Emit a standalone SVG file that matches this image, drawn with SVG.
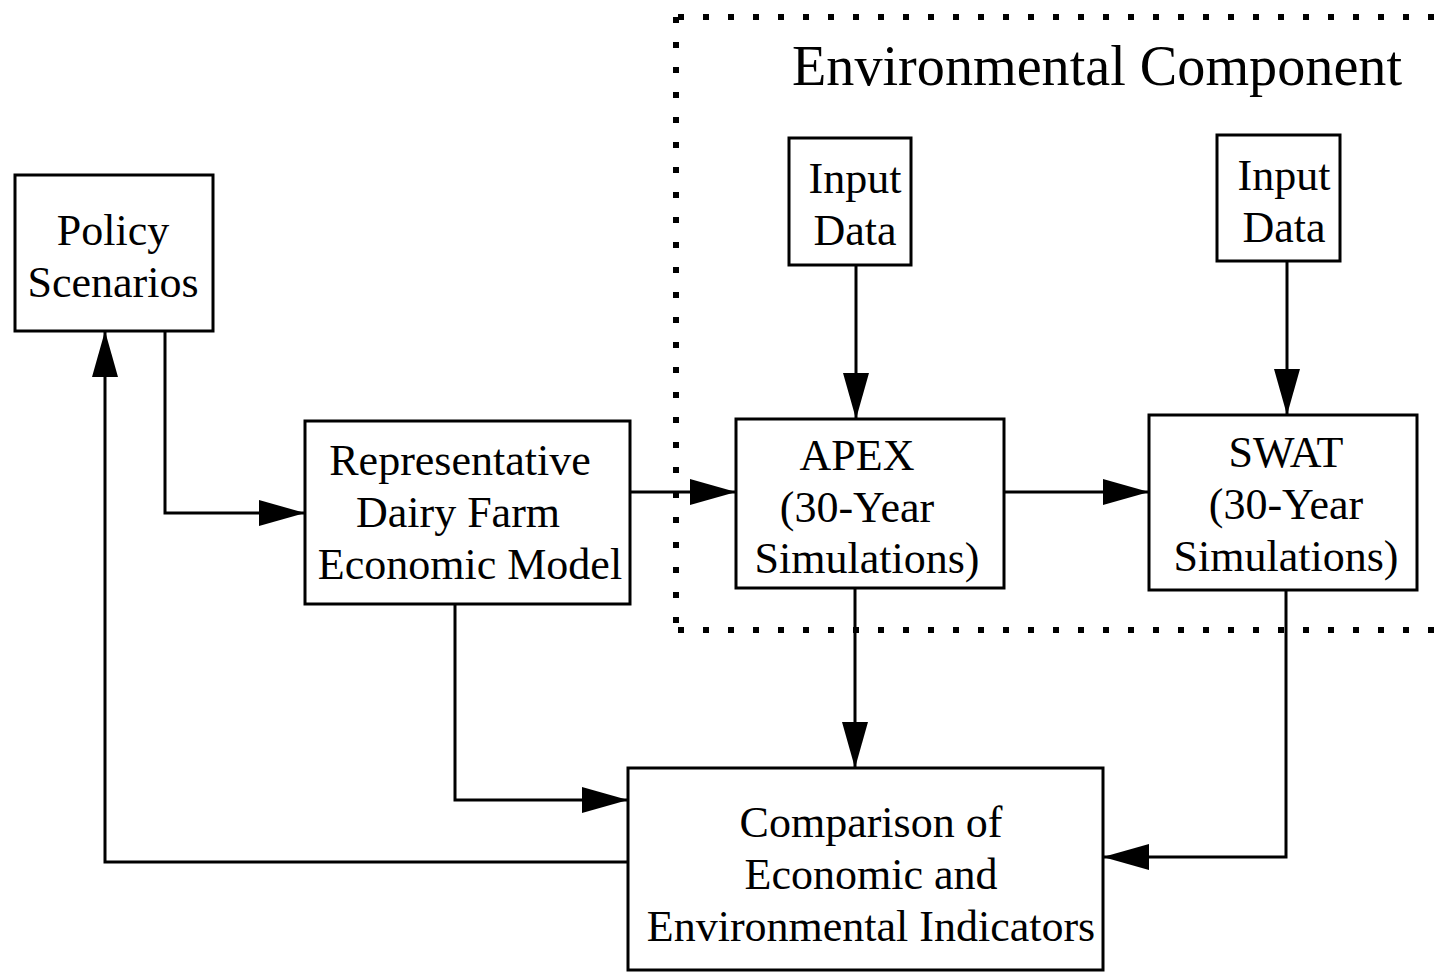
<svg xmlns="http://www.w3.org/2000/svg" width="1450" height="973" viewBox="0 0 1450 973">
<style>
.box{fill:#fff;stroke:#000;stroke-width:3}
.t{font-family:"Liberation Serif","Times New Roman",serif;font-size:44px;fill:#000;text-anchor:middle}
.c{fill:none;stroke:#000;stroke-width:3;marker-end:url(#ah)}
.dot{fill:none;stroke:#000;stroke-width:6;stroke-dasharray:6 19}
</style>
<defs>
<marker id="ah" markerUnits="userSpaceOnUse" markerWidth="46" markerHeight="26" refX="46" refY="13" orient="auto">
<path d="M0,0 L46,13 L0,26 z" fill="#000"/>
</marker>
</defs>
<rect width="1450" height="973" fill="#fff"/>
<g id="env-boundary">
<line class="dot" x1="678" y1="17" x2="1450" y2="17"/>
<line class="dot" x1="676" y1="17" x2="676" y2="632"/>
<line class="dot" x1="678" y1="630" x2="1450" y2="630"/>
<text x="1097" y="85" class="t" style="font-size:56px" textLength="610" lengthAdjust="spacingAndGlyphs">Environmental Component</text>
</g>
<g id="connectors">
<polyline class="c" points="165,331 165,513 305,513"/>
<line class="c" x1="630" y1="492" x2="736" y2="492"/>
<line class="c" x1="1004" y1="492" x2="1149" y2="492"/>
<line class="c" x1="856" y1="265" x2="856" y2="419"/>
<line class="c" x1="1287" y1="261" x2="1287" y2="415"/>
<line class="c" x1="855" y1="588" x2="855" y2="768"/>
<polyline class="c" points="455,604 455,800 628,800"/>
<polyline class="c" points="1286,590 1286,857 1103,857"/>
<polyline class="c" points="628,862 105,862 105,331"/>
</g>
<g id="policy">
<rect class="box" x="15" y="175" width="198" height="156"/>
<text class="t" x="113" y="245">Policy</text>
<text class="t" x="113" y="297">Scenarios</text>
</g>
<g id="farm">
<rect class="box" x="305" y="421" width="325" height="183"/>
<text class="t" x="460" y="475">Representative</text>
<text class="t" x="458" y="527">Dairy Farm</text>
<text class="t" x="470" y="579">Economic Model</text>
</g>
<g id="input1">
<rect class="box" x="789" y="138" width="122" height="127"/>
<text class="t" x="855" y="193">Input</text>
<text class="t" x="855" y="245">Data</text>
</g>
<g id="input2">
<rect class="box" x="1217" y="135" width="123" height="126"/>
<text class="t" x="1284" y="190">Input</text>
<text class="t" x="1284" y="242">Data</text>
</g>
<g id="apex">
<rect class="box" x="736" y="419" width="268" height="169"/>
<text class="t" x="857" y="470">APEX</text>
<text class="t" x="857" y="522">(30-Year</text>
<text class="t" x="867" y="573">Simulations)</text>
</g>
<g id="swat">
<rect class="box" x="1149" y="415" width="268" height="175"/>
<text class="t" x="1286" y="467">SWAT</text>
<text class="t" x="1286" y="519">(30-Year</text>
<text class="t" x="1286" y="571">Simulations)</text>
</g>
<g id="comparison">
<rect class="box" x="628" y="768" width="475" height="202"/>
<text class="t" x="871" y="837">Comparison of</text>
<text class="t" x="871" y="889">Economic and</text>
<text class="t" x="871" y="941">Environmental Indicators</text>
</g>
</svg>
